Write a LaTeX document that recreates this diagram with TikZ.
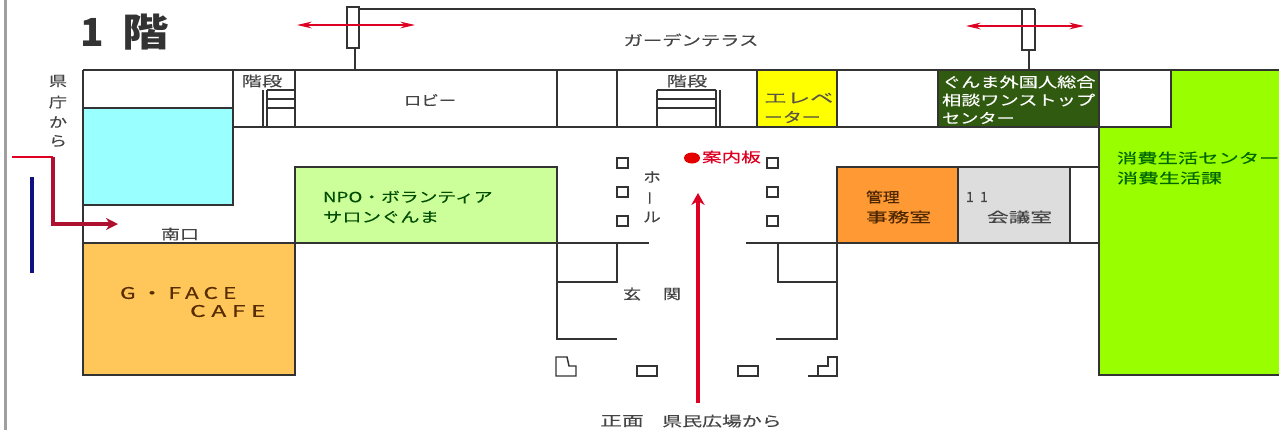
\documentclass[tikz,border=0pt]{standalone}
\usepackage{fontspec}
\usepackage{graphicx}
\usetikzlibrary{arrows.meta}
\setmainfont{Noto Sans CJK JP}
\definecolor{wallc}{HTML}{333333}
\definecolor{inkc}{HTML}{444444}
\definecolor{cyanroom}{HTML}{99FFFF}
\definecolor{nporoom}{HTML}{CCFF99}
\definecolor{caferoom}{HTML}{FFC65A}
\definecolor{orangeroom}{HTML}{FF9933}
\definecolor{grayroom}{HTML}{DDDDDD}
\definecolor{yellowroom}{HTML}{FFFF00}
\definecolor{darkroom}{HTML}{2F5A10}
\definecolor{limeroom}{HTML}{99FF00}
\definecolor{routered}{HTML}{DD0022}
\definecolor{routedark}{HTML}{B01030}
\definecolor{navyline}{HTML}{101080}
\newcommand{\Tx}[2][1.4]{\scalebox{#1}[1]{\fontsize{10.5}{12}\selectfont\addfontfeature{FakeBold=0.25}#2}}
\tikzset{
  wall/.style={draw=wallc,line width=1.1pt},
  thinwall/.style={draw=wallc,line width=0.9pt},
  lab/.style={inner sep=0pt,outer sep=0pt,text=inkc},
  labl/.style={lab,anchor=west},
  doorarrow/.style={draw=routered,line width=0.9pt,{Stealth[length=11pt,width=5pt]}-{Stealth[length=11pt,width=5pt]}},
  bigarrow/.style={draw=routered,line width=3pt,-{Stealth[length=9pt,width=10pt]}},
}
\begin{document}
\begin{tikzpicture}[x=0.75pt,y=-0.75pt]
\useasboundingbox (0,0) rectangle (1279,430);
% page edge
\fill[gray!75] (4,0) rectangle (7,430);
% filled rooms
\fill[limeroom] (1171,70) -- (1279,70) -- (1279,375) -- (1099,375) -- (1099,127) -- (1171,127) -- cycle;
\filldraw[wall,fill=cyanroom] (83,108) rectangle (233,205);
\filldraw[wall,fill=nporoom] (295,167) rectangle (557,243);
\filldraw[wall,fill=caferoom] (83,243) rectangle (295,375);
\filldraw[wall,fill=orangeroom] (837,167) rectangle (958,243);
\filldraw[wall,fill=grayroom] (958,167) rectangle (1070,243);
\filldraw[wall,fill=yellowroom] (757,70) rectangle (837,127);
\filldraw[wall,fill=darkroom] (938,70) rectangle (1099,127);
% main walls
\draw[wall] (83,70) -- (1279,70);
\draw[wall] (83,70) -- (83,243);
\draw[wall] (233,70) -- (233,108);
\draw[wall] (233,127) -- (1171,127) -- (1171,70);
\draw[wall] (295,70) -- (295,127);
\draw[wall] (557,70) -- (557,127);
\draw[wall] (617,70) -- (617,127);
\draw[wall] (1099,127) -- (1099,375) -- (1279,375);
\draw[wall] (1070,167) -- (1099,167);
\draw[wall] (1070,243) -- (1099,243);
% stairs left
\draw[thinwall] (263,90) -- (263,127);
\draw[thinwall] (267,90) -- (267,127);
\draw[thinwall] (267,90) -- (295,90);
\draw[thinwall] (267,99) -- (295,99);
\draw[thinwall] (267,108) -- (295,108);
% stairs centre
\draw[draw=wallc,line width=2.2pt] (657,90) -- (657,127);
\draw[thinwall] (716,90) -- (716,127);
\draw[thinwall] (720,90) -- (720,127);
\draw[thinwall] (657,90) -- (716,90);
\draw[thinwall] (657,99) -- (716,99);
\draw[thinwall] (657,108) -- (716,108);
% terrace and doors
\draw[wall] (359,9) -- (1035,9);
\draw[wall,fill=white] (347,7) rectangle (359,48);
\draw[wall] (355,48) -- (355,70);
\draw[wall] (1022,9) -- (1022,50) -- (1035,50) -- (1035,9);
\draw[wall] (1029,50) -- (1029,70);
% entrance walls
\draw[wall] (295,243) -- (649,243);
\draw[wall] (746,243) -- (837,243);
\draw[wall] (557,243) -- (557,339) -- (617,339);
\draw[wall] (557,282) -- (617,282) -- (617,243);
\draw[wall] (778,243) -- (778,282) -- (837,282);
\draw[wall] (837,243) -- (837,339) -- (776,339);
% pillars
\foreach \py in {158,187,216}{
  \draw[wall] (617,\py) rectangle (628,\py+10);
  \draw[wall] (767,\py) rectangle (778,\py+10);
}
% front pieces
\draw[wall] (556,357) -- (567,357) -- (569,366) -- (576,366) -- (576,376) -- (556,376) -- cycle;
\draw[wall] (637,366) rectangle (657,376);
\draw[wall] (738,366) rectangle (758,376);
\draw[wall] (837,357) -- (828,357) -- (828,366) -- (818,366) -- (818,376) -- (837,376) -- cycle;
\draw[wall] (818,376) -- (808,376);
% arrows and route
\coordinate (dlA) at (297,25); \coordinate (dlB) at (415,25);
\coordinate (drA) at (966,26); \coordinate (drB) at (1084,26);
\draw[doorarrow] (dlA) -- (dlB);
\draw[doorarrow] (drA) -- (drB);
\coordinate (frontS) at (698,403); \coordinate (frontE) at (698,193);
\draw[bigarrow] (frontS) -- (frontE);
\coordinate (rA) at (12,157); \coordinate (rB) at (53,157);
\coordinate (rC) at (53,224); \coordinate (rD) at (118,224);
\draw[routered,line width=2.2pt] (rA) -- (rB);
\draw[draw=routedark,line width=3pt,-{Stealth[length=9pt,width=9pt]}] (rB) -- (rC) -- (rD);
\coordinate (bA) at (32,177); \coordinate (bB) at (32,273);
\draw[navyline,line width=3pt] (bA) -- (bB);
\fill[red!90!black] (692,158) ellipse[x radius=8,y radius=5.5];
% texts
\node[lab,anchor=west,text=wallc] (titleA) at (80,32) {\fontsize{29}{32}\selectfont\bfseries 1};
\node[lab,anchor=west,text=wallc] (titleB) at (122,32) {\scalebox{1.2}[1]{\fontsize{29}{32}\selectfont\bfseries 階}};
\node[lab] (kenA) at (58,81) {\Tx[1.3]{県}};
\node[lab] (kenB) at (58,102) {\Tx[1.3]{庁}};
\node[lab] (kenC) at (58,122) {\Tx[1.3]{か}};
\node[lab] (kenD) at (58,141) {\Tx[1.3]{ら}};
\node[lab] (stairsA) at (262,81) {\Tx[1.45]{階段}};
\node[lab] (lobby) at (430,100) {\Tx[1.25]{ロビー}};
\node[lab] (garden) at (691,40) {\Tx[1.38]{ガーデンテラス}};
\node[lab] (stairsB) at (687,81) {\Tx[1.45]{階段}};
\node[labl,text=black!75!yellow] (elevA) at (764,98) {\Tx[1.65]{エレベ}};
\node[labl,text=black!75!yellow] (elevB) at (764,117) {\Tx[1.35]{ーター}};
\node[labl,text=white] (gA) at (942,82) {\Tx[1.37]{ぐんま外国人総合}};
\node[labl,text=white] (gB) at (942,100) {\Tx[1.37]{相談ワンストップ}};
\node[labl,text=white] (gC) at (942,118) {\Tx[1.3]{センター}};
\node[labl,text=routered] (guide) at (702,157) {\Tx[1.4]{案内板}};
\node[lab] (holeA) at (652,177) {\Tx[1.25]{ホ}};
\node[lab,rotate=90] (holeB) at (652,198) {\fontsize{10.5}{12}\selectfont\addfontfeature{FakeBold=0.25}ー};
\node[lab] (holeC) at (652,217) {\Tx[1.25]{ル}};
\node[labl,text=black!70!green] (npoA) at (323,197) {\Tx[1.34]{NPO・ボランティア}};
\node[labl,text=black!70!green] (npoB) at (323,217) {\Tx[1.38]{サロンぐんま}};
\node[lab] (south) at (180,234) {\Tx[1.35]{南口}};
\node[labl,text=black!65!orange] (cafeA) at (120,293) {\scalebox{1.42}[1]{\fontsize{12}{14}\selectfont\addfontfeature{LetterSpace=22,FakeBold=0.25}G・FACE}};
\node[labl,text=black!65!orange] (cafeB) at (190,311) {\scalebox{1.55}[1]{\fontsize{12}{14}\selectfont\addfontfeature{LetterSpace=22,FakeBold=0.25}CAFE}};
\node[labl,text=black!70!orange] (mgrA) at (866,197) {\Tx[1.2]{管理}};
\node[labl,text=black!70!orange] (mgrB) at (866,217) {\Tx[1.55]{事務室}};
\node[labl] (mtgA) at (966,197) {\fontsize{10.5}{12}\selectfont\addfontfeature{LetterSpace=45,FakeBold=0.25}11};
\node[labl] (mtgB) at (987,217) {\Tx[1.55]{会議室}};
\node[labl,text=black!60!green] (lifeA) at (1117,158) {\Tx[1.45]{消費生活センター}};
\node[labl,text=black!60!green] (lifeB) at (1117,178) {\Tx[1.5]{消費生活課}};
\node[lab] (genA) at (632,294) {\Tx[1.3]{玄}};
\node[lab] (genB) at (672,294) {\Tx[1.3]{関}};
\node[lab] (frontA) at (622,421) {\Tx[1.55]{正面}};
\node[lab] (frontB) at (722,421) {\Tx[1.42]{県民広場から}};
\end{tikzpicture}
\end{document}
